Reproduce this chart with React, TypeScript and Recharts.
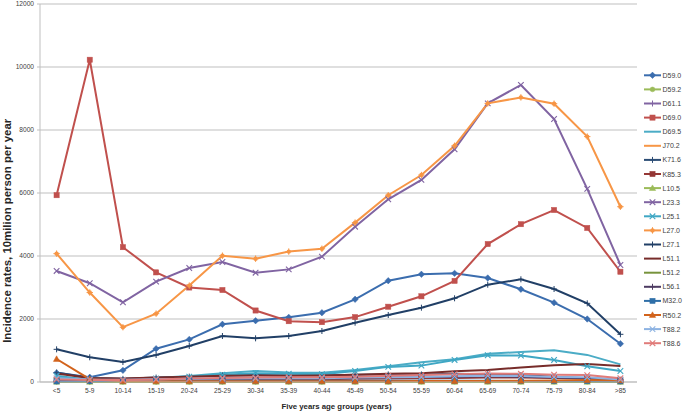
import React from 'react';
import { LineChart, Line, XAxis, YAxis, CartesianGrid, Label } from 'recharts';

const AGE_GROUPS = ['<5', '5-9', '10-14', '15-19', '20-24', '25-29', '30-34', '35-39', '40-44', '45-49', '50-54', '55-59', '60-64', '65-69', '70-74', '75-79', '80-84', '>85'];
const Y_TICKS = [0, 2000, 4000, 6000, 8000, 10000, 12000];

const D59_0 = [290, 150, 370, 1057, 1352, 1832, 1946, 2053, 2200, 2625, 3216, 3419, 3450, 3302, 2943, 2518, 2000, 1216];
const D59_2 = [6, 5, 5, 5, 5, 6, 6, 6, 6, 6, 6, 7, 7, 7, 7, 7, 6, 5];
const D61_1 = [20, 15, 15, 15, 20, 20, 20, 20, 20, 25, 25, 30, 30, 35, 35, 35, 30, 25];
const D69_0 = [5930, 10230, 4280, 3480, 3000, 2920, 2270, 1930, 1900, 2060, 2390, 2720, 3210, 4380, 5010, 5460, 4890, 3500];
const D69_5 = [150, 70, 80, 130, 190, 280, 350, 300, 290, 380, 500, 630, 720, 900, 950, 1010, 860, 560];
const J70_2 = [15, 10, 10, 15, 20, 25, 30, 30, 30, 35, 35, 35, 35, 35, 30, 30, 25, 20];
const K71_6 = [300, 130, 100, 140, 170, 210, 220, 210, 210, 230, 240, 240, 260, 250, 220, 170, 120, 70];
const K85_3 = [60, 40, 40, 50, 60, 70, 80, 80, 90, 100, 110, 120, 130, 140, 140, 130, 110, 70];
const L10_5 = [8, 5, 4, 4, 4, 4, 4, 4, 4, 4, 4, 4, 4, 4, 4, 4, 4, 4];
const L23_3 = [3525, 3135, 2530, 3185, 3620, 3810, 3470, 3575, 3980, 4930, 5800, 6415, 7390, 8845, 9430, 8350, 6130, 3715];
const L25_1 = [200, 60, 60, 110, 170, 230, 280, 260, 250, 350, 480, 520, 700, 850, 840, 700, 500, 350];
const L27_0 = [4075, 2840, 1740, 2170, 3060, 4010, 3915, 4140, 4230, 5060, 5930, 6570, 7500, 8845, 9035, 8835, 7790, 5565];
const L27_1 = [1037, 784, 635, 857, 1143, 1460, 1386, 1460, 1619, 1883, 2127, 2359, 2657, 3089, 3260, 2952, 2498, 1514];
const L51_1 = [270, 130, 110, 140, 170, 200, 210, 200, 210, 230, 260, 280, 340, 380, 460, 530, 570, 510];
const L51_2 = [10, 8, 8, 10, 10, 12, 12, 12, 12, 12, 12, 12, 12, 12, 12, 10, 10, 8];
const L56_1 = [40, 30, 40, 60, 80, 100, 110, 120, 120, 140, 150, 160, 170, 180, 170, 140, 110, 60];
const M32_0 = [20, 30, 40, 50, 50, 40, 40, 40, 40, 40, 40, 40, 40, 40, 30, 30, 30, 20];
const R50_2 = [730, 90, 25, 25, 25, 25, 25, 25, 25, 25, 25, 30, 30, 35, 40, 50, 60, 50];
const T88_2 = [120, 80, 70, 90, 100, 110, 120, 120, 120, 140, 150, 160, 180, 200, 190, 160, 150, 80];
const T88_6 = [80, 60, 60, 80, 110, 130, 140, 150, 150, 170, 200, 220, 250, 270, 260, 230, 220, 120];

type Marker = 'diamond' | 'square' | 'circle' | 'triangle' | 'x' | 'star' | 'plus' | 'dash' | 'none';
interface SeriesDef { name: string; values: number[]; color: string; marker: Marker; }

const SERIES: SeriesDef[] = [
  { name: 'D59.0', values: D59_0, color: '#3B6DAE', marker: 'diamond' },
  { name: 'D59.2', values: D59_2, color: '#9BBB59', marker: 'circle' },
  { name: 'D61.1', values: D61_1, color: '#8064A2', marker: 'plus' },
  { name: 'D69.0', values: D69_0, color: '#C0504D', marker: 'square' },
  { name: 'D69.5', values: D69_5, color: '#4BACC6', marker: 'none' },
  { name: 'J70.2', values: J70_2, color: '#F79646', marker: 'none' },
  { name: 'K71.6', values: K71_6, color: '#2C4D75', marker: 'plus' },
  { name: 'K85.3', values: K85_3, color: '#953735', marker: 'square' },
  { name: 'L10.5', values: L10_5, color: '#9BBB59', marker: 'triangle' },
  { name: 'L23.3', values: L23_3, color: '#8064A2', marker: 'x' },
  { name: 'L25.1', values: L25_1, color: '#3FA7C4', marker: 'x' },
  { name: 'L27.0', values: L27_0, color: '#F79646', marker: 'star' },
  { name: 'L27.1', values: L27_1, color: '#213F66', marker: 'plus' },
  { name: 'L51.1', values: L51_1, color: '#772C2A', marker: 'none' },
  { name: 'L51.2', values: L51_2, color: '#77933C', marker: 'none' },
  { name: 'L56.1', values: L56_1, color: '#4D3B62', marker: 'plus' },
  { name: 'M32.0', values: M32_0, color: '#2F6FA8', marker: 'square' },
  { name: 'R50.2', values: R50_2, color: '#D2631C', marker: 'triangle' },
  { name: 'T88.2', values: T88_2, color: '#8DB3E2', marker: 'x' },
  { name: 'T88.6', values: T88_6, color: '#E07B79', marker: 'x' },
];

const DATA = AGE_GROUPS.map((g, i) => {
  const row: Record<string, string | number> = { group: g };
  SERIES.forEach((s) => { row[s.name] = s.values[i]; });
  return row;
});

const FONT = '"Liberation Sans", Arial, sans-serif';

function markerShape(type: Marker, color: string, cx: number, cy: number, key?: React.Key) {
  switch (type) {
    case 'diamond':
      return <path key={key} d={`M${cx},${cy - 3.2}L${cx + 3.2},${cy}L${cx},${cy + 3.2}L${cx - 3.2},${cy}Z`} fill={color} stroke={color} strokeWidth={0.5} />;
    case 'square':
      return <rect key={key} x={cx - 2.6} y={cy - 2.6} width={5.2} height={5.2} fill={color} stroke={color} strokeWidth={0.5} />;
    case 'circle':
      return <circle key={key} cx={cx} cy={cy} r={2.4} fill={color} stroke={color} strokeWidth={0.5} />;
    case 'triangle':
      return <path key={key} d={`M${cx},${cy - 3.2}L${cx + 3.2},${cy + 2.4}L${cx - 3.2},${cy + 2.4}Z`} fill={color} stroke={color} strokeWidth={0.5} />;
    case 'x':
      return (
        <path key={key} d={`M${cx - 2.8},${cy - 2.8}L${cx + 2.8},${cy + 2.8}M${cx - 2.8},${cy + 2.8}L${cx + 2.8},${cy - 2.8}`} stroke={color} strokeWidth={1.1} fill="none" />
      );
    case 'star':
      return (
        <g key={key}>
          <circle cx={cx} cy={cy} r={2.2} fill={color} />
          <path d={`M${cx},${cy - 3.2}L${cx},${cy + 3.2}M${cx - 3.2},${cy}L${cx + 3.2},${cy}`} stroke={color} strokeWidth={1} />
        </g>
      );
    case 'plus':
      return <path key={key} d={`M${cx},${cy - 3}L${cx},${cy + 3}M${cx - 3},${cy}L${cx + 3},${cy}`} stroke={color} strokeWidth={1} fill="none" />;
    default:
      return <g key={key} />;
  }
}

const makeDot = (s: SeriesDef) => (props: any) => {
  const { cx, cy, index } = props;
  if (cx == null || cy == null) return <g key={`${s.name}-${index}`} />;
  return markerShape(s.marker, s.color, cx, cy, `${s.name}-${index}`);
};

const XTick = (props: any) => {
  const { x, y, payload } = props;
  return (
    <text x={x} y={y + 10.5} textAnchor="middle" fontSize={6.6} fontFamily={FONT} fill="#404040">
      {payload.value}
    </text>
  );
};

const YTick = (props: any) => {
  const { x, y, payload } = props;
  return (
    <text x={x} y={y + 2.4} textAnchor="end" fontSize={6.6} fontFamily={FONT} fill="#404040">
      {payload.value}
    </text>
  );
};

const YTitle = (props: any) => {
  const vb = props.viewBox || { x: 8, y: 4, width: 32, height: 378 };
  const cx = 7;
  const cy = vb.y + vb.height * 0.6;
  return (
    <text x={cx} y={cy} transform={`rotate(-90, ${cx}, ${cy})`} textAnchor="middle" dominantBaseline="central"
      fontSize={10.5} fontWeight="bold" fontFamily={FONT} fill="#262626" textLength={224} lengthAdjust="spacingAndGlyphs">
      Incidence rates, 10milion person per year
    </text>
  );
};

const XTitle = (props: any) => {
  const vb = props.viewBox || { x: 40, y: 382, width: 597, height: 20 };
  const cx = vb.x + vb.width / 2 - 2;
  return (
    <text x={cx} y={408.5} textAnchor="middle" fontSize={8} fontWeight="bold" fontFamily={FONT} fill="#262626"
      textLength={110} lengthAdjust="spacingAndGlyphs">
      Five years age groups (years)
    </text>
  );
};

const LegendOverlay = () => (
  <svg width={685} height={413} style={{ position: 'absolute', left: 0, top: 0, pointerEvents: 'none' }}>
    {SERIES.map((s, i) => {
      const cy = 75.3 + i * 14.1;
      return (
        <g key={s.name}>
          <line x1={644} x2={661} y1={cy} y2={cy} stroke={s.color} strokeWidth={2} />
          {markerShape(s.marker, s.color, 652.5, cy)}
          <text x={662.5} y={cy + 2.5} fontSize={7} fontFamily={FONT} fill="#404040">{s.name}</text>
        </g>
      );
    })}
  </svg>
);

export default function App() {
  return (
    <div style={{ position: 'absolute', left: 0, top: 0, width: 685, height: 413, background: '#ffffff' }}>
      <LineChart width={685} height={413} data={DATA} margin={{ top: 4, right: 48, bottom: 11, left: 8 }}>
        <CartesianGrid horizontal vertical={false} stroke="#BFBFBF" strokeWidth={1} />
        <XAxis dataKey="group" height={20} tickSize={0} tickMargin={0} axisLine={{ stroke: '#BFBFBF' }} tickLine={false}
          tick={<XTick />} interval={0} padding={{ left: 16.6, right: 16.6 }}>
          <Label content={<XTitle />} />
        </XAxis>
        <YAxis width={32} domain={[0, 12000]} ticks={Y_TICKS} tickSize={3} tickMargin={3} axisLine={{ stroke: '#BFBFBF' }}
          tickLine={{ stroke: '#BFBFBF' }} tick={<YTick />} interval={0}>
          <Label content={<YTitle />} />
        </YAxis>
        {SERIES.map((s) => (
          <Line key={s.name} dataKey={s.name} type="linear" stroke={s.color} strokeWidth={2}
            dot={s.marker === 'none' ? false : makeDot(s)} activeDot={false} isAnimationActive={false} />
        ))}
      </LineChart>
      <LegendOverlay />
    </div>
  );
}
